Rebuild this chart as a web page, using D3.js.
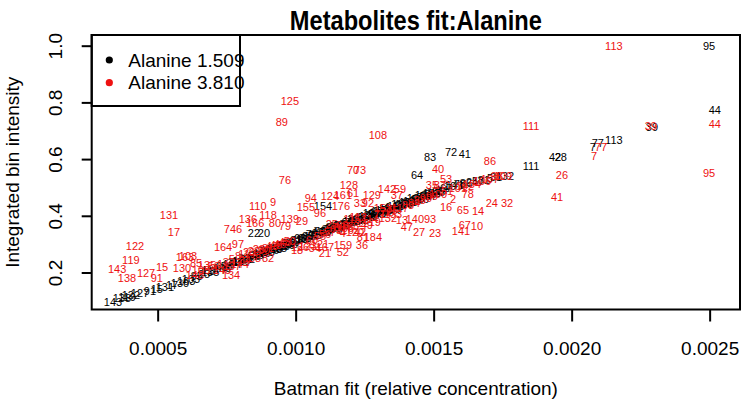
<!DOCTYPE html>
<html>
<head>
<meta charset="utf-8">
<script src="https://cdn.jsdelivr.net/npm/d3@7"></script>
<style>
  body { margin: 0; background: #fff; }
  svg { display: block; font-family: "Liberation Sans", Arial, sans-serif; }
</style>
</head>
<body>
<svg id="chart" width="742" height="406"></svg>
<script>
// each point: [sample index, Batman fit, integrated bin intensity]
const blackPoints = [
    [143,0.000338,0.096],[138,0.000371,0.110],[119,0.000389,0.114],[122,0.000403,0.121],[127,0.000436,0.128],
    [91,0.000472,0.135],[15,0.000497,0.142],[131,0.000526,0.149],[17,0.000552,0.156],[130,0.000581,0.163],
    [163,0.000603,0.170],[103,0.000621,0.177],[85,0.000642,0.188],[25,0.000668,0.195],[135,0.000690,0.202],
    [134,0.000711,0.209],[105,0.000733,0.216],[58,0.000751,0.223],[164,0.000769,0.230],[97,0.000787,0.237],
    [146,0.000802,0.241],[74,0.000820,0.248],[2,0.000834,0.251],[52,0.000849,0.258],[48,0.000863,0.262],
    [110,0.000878,0.269],[9,0.000892,0.272],[136,0.000907,0.279],[118,0.000921,0.283],[168,0.000936,0.286],
    [80,0.000950,0.294],[139,0.000965,0.297],[29,0.000979,0.304],[79,0.000994,0.308],[18,0.001008,0.315],
    [13,0.001023,0.318],[60,0.001037,0.322],[16,0.001052,0.329],[21,0.001066,0.332],[94,0.001081,0.339],
    [155,0.001095,0.343],[35,0.001110,0.346],[96,0.001124,0.353],[124,0.001139,0.357],[128,0.001153,0.364],
    [176,0.001168,0.368],[70,0.001182,0.371],[73,0.001197,0.378],[12,0.001211,0.382],[69,0.001226,0.385],
    [4,0.001240,0.392],[159,0.001255,0.396],[36,0.001269,0.403],[84,0.001284,0.406],[129,0.001298,0.410],
    [142,0.001313,0.417],[59,0.001327,0.420],[37,0.001342,0.424],[140,0.001356,0.431],[47,0.001371,0.435],
    [27,0.001385,0.438],[23,0.001400,0.445],[93,0.001414,0.449],[40,0.001429,0.456],[53,0.001443,0.459],
    [87,0.001458,0.466],[54,0.001472,0.470],[51,0.001487,0.477],[62,0.001501,0.480],[65,0.001516,0.487],
    [14,0.001530,0.491],[67,0.001545,0.498],[10,0.001559,0.505],[141,0.001577,0.509],[78,0.001595,0.512],
    [86,0.001617,0.516],[24,0.001639,0.519],[57,0.001661,0.523],[81,0.001682,0.526],[5,0.001704,0.533],
    [31,0.001726,0.537],[132,0.001758,0.540],
    [1,0.000671,0.208],[3,0.000697,0.204],[6,0.000722,0.222],[8,0.000747,0.221],[11,0.000773,0.236],
    [19,0.000795,0.241],[30,0.000813,0.252],[32,0.000831,0.249],[33,0.000853,0.262],[34,0.000867,0.266],
    [38,0.000885,0.276],[43,0.000903,0.273],[45,0.000914,0.287],[46,0.000928,0.283],[49,0.000943,0.292],
    [50,0.000958,0.293],[55,0.000972,0.305],[56,0.000987,0.302],[61,0.001001,0.313],[63,0.001016,0.321],
    [66,0.001030,0.322],[68,0.001044,0.328],[71,0.001059,0.334],[75,0.001073,0.331],[76,0.001088,0.346],
    [82,0.001102,0.342],[88,0.001117,0.352],[89,0.001131,0.360],[90,0.001146,0.356],[92,0.001160,0.368],
    [98,0.001175,0.366],[99,0.001189,0.378],[100,0.001204,0.380],[101,0.001218,0.388],[102,0.001233,0.384],
    [104,0.001247,0.395],[106,0.001262,0.398],[107,0.001276,0.409],[108,0.001291,0.405],[109,0.001305,0.416],
    [112,0.001320,0.419],[114,0.001334,0.427],[115,0.001349,0.425],[116,0.001363,0.434],[117,0.001378,0.441],
    [120,0.001392,0.440],[121,0.001407,0.448],[123,0.001421,0.452],[125,0.001436,0.461],[126,0.001450,0.460],
    [133,0.001465,0.472],[137,0.001479,0.471],[144,0.001494,0.482],[145,0.001508,0.483],
    [22,0.000849,0.339],[20,0.000885,0.339],[154,0.001099,0.435],[64,0.001440,0.544],[83,0.001487,0.607],
    [72,0.001563,0.625],[41,0.001613,0.618],[111,0.001853,0.576],[42,0.001940,0.607],[28,0.001961,0.607],
    [7,0.002077,0.643],[77,0.002095,0.657],[113,0.002153,0.667],[39,0.002291,0.713],[44,0.002519,0.773],
    [95,0.002498,0.999]
];

const redPoints = [
    [113,0.002153,0.999],[111,0.001853,0.717],[125,0.000979,0.805],[89,0.000950,0.731],[108,0.001298,0.685],
    [70,0.001208,0.562],[73,0.001233,0.562],[76,0.000961,0.526],[86,0.001704,0.593],[40,0.001516,0.565],
    [131,0.000541,0.403],[17,0.000559,0.343],[122,0.000418,0.294],[119,0.000403,0.244],[143,0.000353,0.212],
    [138,0.000389,0.181],[127,0.000458,0.198],[15,0.000516,0.219],[130,0.000588,0.216],[163,0.000599,0.255],
    [103,0.000610,0.258],[91,0.000497,0.181],[74,0.000762,0.353],[6,0.000795,0.353],[164,0.000737,0.290],
    [97,0.000791,0.301],[134,0.000766,0.191],[110,0.000863,0.435],[9,0.000918,0.449],[136,0.000827,0.389],
    [118,0.000900,0.403],[166,0.000853,0.375],[80,0.000925,0.375],[139,0.000979,0.389],[29,0.001023,0.382],
    [79,0.000961,0.364],[94,0.001055,0.463],[124,0.001124,0.470],[155,0.001037,0.431],[96,0.001088,0.410],
    [176,0.001164,0.435],[128,0.001193,0.509],[161,0.001171,0.473],[61,0.001208,0.480],[129,0.001276,0.473],
    [142,0.001331,0.495],[59,0.001378,0.495],[37,0.001367,0.473],[33,0.001233,0.445],[92,0.001262,0.445],
    [53,0.001545,0.530],[35,0.001494,0.509],[87,0.001523,0.509],[16,0.001545,0.431],[25,0.001131,0.371],
    [69,0.001168,0.368],[4,0.001171,0.339],[12,0.001244,0.375],[49,0.001258,0.368],[19,0.001287,0.378],
    [153,0.001316,0.427],[117,0.001378,0.427],[13,0.001385,0.385],[140,0.001432,0.389],[93,0.001487,0.389],
    [47,0.001403,0.361],[27,0.001447,0.343],[23,0.001505,0.339],[159,0.001171,0.297],[52,0.001171,0.272],
    [36,0.001240,0.297],[184,0.001280,0.325],[81,0.001244,0.325],[21,0.001106,0.269],[167,0.001106,0.290],
    [51,0.001548,0.487],[2,0.001570,0.459],[78,0.001624,0.477],[24,0.001711,0.445],[32,0.001766,0.445],
    [65,0.001606,0.420],[14,0.001661,0.417],[67,0.001613,0.368],[10,0.001657,0.364],[141,0.001599,0.346],
    [26,0.001965,0.544],[41,0.001947,0.466],[98,0.001729,0.540],[77,0.002106,0.643],[7,0.002081,0.611],
    [39,0.002287,0.717],[44,0.002519,0.724],[95,0.002498,0.551],
    [85,0.000639,0.234],[135,0.000679,0.226],[105,0.000657,0.209],[58,0.000704,0.223],[1,0.000726,0.230],
    [3,0.000747,0.237],[5,0.000769,0.248],[8,0.000791,0.258],[11,0.000813,0.265],[20,0.000831,0.272],
    [22,0.000849,0.276],[28,0.000867,0.283],[30,0.000885,0.279],[31,0.000900,0.286],[34,0.000816,0.244],
    [38,0.000853,0.251],[82,0.000900,0.251],[43,0.000914,0.294],[45,0.000928,0.297],[46,0.000943,0.301],
    [48,0.000961,0.308],[50,0.000979,0.311],[18,0.001005,0.279],[60,0.001059,0.315],[54,0.001070,0.286],
    [55,0.001088,0.329],[56,0.001106,0.336],[57,0.001124,0.343],[62,0.001146,0.353],[63,0.001160,0.360],
    [66,0.001189,0.357],[68,0.001208,0.364],[71,0.001305,0.406],[72,0.001327,0.413],[75,0.001349,0.420],
    [83,0.001407,0.438],[84,0.001429,0.445],[88,0.001450,0.456],[90,0.001472,0.463],[99,0.001494,0.470],
    [100,0.001516,0.477],[101,0.001588,0.498],[102,0.001613,0.505],[104,0.001639,0.512],[106,0.001675,0.523],
    [107,0.001704,0.530],[109,0.001751,0.540],[112,0.001226,0.396],[114,0.001269,0.389],[115,0.001204,0.389],
    [116,0.001179,0.350],[120,0.001215,0.343],[121,0.001088,0.301],[123,0.001044,0.294],[126,0.001016,0.290],
    [42,0.001233,0.343],[132,0.001334,0.392],[133,0.001353,0.406],[137,0.000769,0.223],[144,0.000798,0.230],
    [145,0.000733,0.209],[148,0.000635,0.191]
];

const seriesNames = ["Alanine 1.509", "Alanine 3.810"];
const seriesColors = ["#000000", "#ee1111"];
const xTicks = [0.0005, 0.0010, 0.0015, 0.0020, 0.0025];
const yTicks = [0.2, 0.4, 0.6, 0.8, 1.0];
const xDomain = [0.000261, 0.00261];
const yDomain = [0.0695, 1.0377];

const svg = d3.select("#chart");
const margin = { top: 35, right: 2, bottom: 96.5, left: 91.7 };
const width = +svg.attr("width") - margin.left - margin.right;
const height = +svg.attr("height") - margin.top - margin.bottom;
const g = svg.append("g").attr("transform", `translate(${margin.left},${margin.top})`);

const xScale = d3.scaleLinear().domain(xDomain).range([0, width]);
const yScale = d3.scaleLinear().domain(yDomain).range([height, 0]);

// axes (R style: ticks outside, labels parallel to axis)
const xAxis = g.append("g")
    .attr("transform", `translate(0,${height})`)
    .call(d3.axisBottom(xScale).tickValues(xTicks).tickFormat(d3.format(".4f")).tickSize(12).tickSizeOuter(0));
xAxis.select(".domain").remove();
xAxis.selectAll("line").attr("stroke-width", 2);
xAxis.selectAll("text")
    .attr("y", 45).attr("dy", null)
    .attr("font-size", 19).attr("font-family", "Liberation Sans, Arial, sans-serif").attr("fill", "#000");

const yAxis = g.append("g")
    .call(d3.axisLeft(yScale).tickValues(yTicks).tickFormat(d3.format(".1f")).tickSize(10).tickSizeOuter(0));
yAxis.select(".domain").remove();
yAxis.selectAll("line").attr("stroke-width", 2);
yAxis.selectAll("text")
    .attr("x", null).attr("dy", null)
    .attr("transform", "translate(-30,0) rotate(-90)")
    .attr("text-anchor", "middle")
    .attr("font-size", 19).attr("font-family", "Liberation Sans, Arial, sans-serif").attr("fill", "#000");

// point labels
[blackPoints, redPoints].forEach((pts, i) => {
    g.append("g")
        .selectAll("text")
        .data(pts)
        .join("text")
        .attr("x", d => xScale(d[1]))
        .attr("y", d => yScale(d[2]))
        .attr("dy", "0.36em")
        .attr("text-anchor", "middle")
        .attr("font-size", 11)
        .attr("fill", seriesColors[i])
        .text(d => d[0]);
});

// legend
const legend = g.append("g");
legend.append("rect")
    .attr("x", 0).attr("y", 0).attr("width", 148.3).attr("height", 71)
    .attr("fill", "#fff").attr("stroke", "#000").attr("stroke-width", 2);
seriesNames.forEach((name, i) => {
    legend.append("circle")
        .attr("cx", 17.6).attr("cy", 25 + i * 22.7).attr("r", 3.6)
        .attr("fill", seriesColors[i]);
    legend.append("text")
        .attr("x", 36.6).attr("y", 31.7 + i * 22.7)
        .attr("font-size", 19)
        .text(name);
});

// plot frame
g.append("rect")
    .attr("width", width).attr("height", height)
    .attr("fill", "none").attr("stroke", "#000").attr("stroke-width", 2);

// titles
svg.append("text")
    .attr("x", margin.left + width / 2).attr("y", 30)
    .attr("text-anchor", "middle")
    .attr("font-size", 28).attr("font-weight", "bold")
    .attr("textLength", 252).attr("lengthAdjust", "spacingAndGlyphs")
    .text("Metabolites fit:Alanine");

svg.append("text")
    .attr("x", margin.left + width / 2).attr("y", 395)
    .attr("text-anchor", "middle")
    .attr("font-size", 19)
    .text("Batman fit (relative concentration)");

svg.append("text")
    .attr("transform", `translate(19,${margin.top + height / 2}) rotate(-90)`)
    .attr("text-anchor", "middle")
    .attr("font-size", 19)
    .text("Integrated bin intensity");
</script>
</body>
</html>
